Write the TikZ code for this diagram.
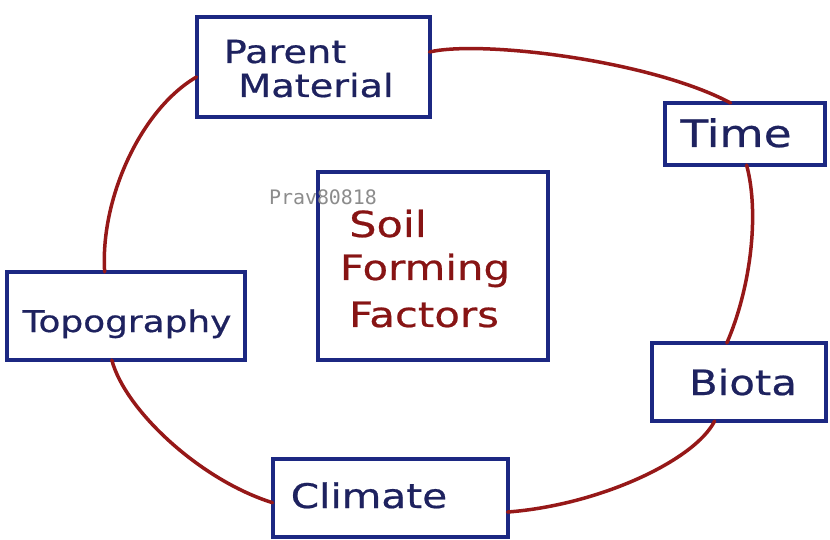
\documentclass[tikz,border=0pt]{standalone}
\usepackage{fontspec}
\usetikzlibrary{calc}
\newfontfamily\hand{DejaVu Sans}[FakeStretch=1.2,FakeBold=0.6]
\newfontfamily\wmark{DejaVu Sans Mono}
\definecolor{boxblue}{RGB}{28,40,130}
\definecolor{inkblue}{RGB}{30,34,95}
\definecolor{inkred}{RGB}{150,24,24}
\definecolor{textred}{RGB}{135,20,20}
\begin{document}
\begin{tikzpicture}[x=1bp,y=-1bp,
  box/.style={draw=boxblue, line width=4bp, rectangle, inner sep=0pt, outer sep=0pt, fill=white},
  lbl/.style={anchor=base, inner sep=0pt, text=inkblue},
  redlbl/.style={anchor=base, inner sep=0pt, text=textred},
  conn/.style={draw=inkred, line width=3.5bp, line cap=round}]
\useasboundingbox (0,0) rectangle (830,540);
\fill[white] (0,0) rectangle (830,540);

% boxes
\node[box, minimum width=233bp, minimum height=100bp] (pm) at (313,67) {};
\node[box, minimum width=160bp, minimum height=62bp] (time) at (745,134) {};
\node[box, minimum width=230bp, minimum height=187bp] (sff) at (433,266) {};
\node[box, minimum width=237bp, minimum height=88bp] (topo) at (126,316) {};
\node[box, minimum width=174bp, minimum height=78bp] (biota) at (739,382) {};
\node[box, minimum width=235bp, minimum height=78bp] (clim) at (390,498) {};

% labels
\node[lbl, font=\hand\fontsize{32}{32}\selectfont] (pmt1) at (285,63) {Parent};
\node[lbl, font=\hand\fontsize{32}{32}\selectfont] (pmt2) at (316,97) {Material};
\node[lbl, font=\hand\fontsize{38}{38}\selectfont] (timet) at (736,147) {Time};
\node[lbl, font=\hand\fontsize{35}{35}\selectfont] (biotat) at (743,395) {Biota};
\node[lbl, font=\hand\fontsize{30}{30}\selectfont] (topot) at (127,332) {Topography};
\node[lbl, font=\hand\fontsize{34}{34}\selectfont] (climt) at (369,508) {Climate};
\node[redlbl, font=\hand\fontsize{36}{36}\selectfont] (s1) at (388,237) {Soil};
\node[redlbl, font=\hand\fontsize{35}{35}\selectfont] (s2) at (425,280) {Forming};
\node[redlbl, font=\hand\fontsize{35}{35}\selectfont] (s3) at (424,327) {Factors};

% watermark
\node[inner sep=0pt, text=black!45, font=\wmark\fontsize{20}{20}\selectfont] (wm) at (323,197) {Prav80818};

% connectors (the ring)
\draw[conn] ($(pm.north east)!0.35!(pm.south east)$) .. controls (480,40) and (650,60) .. ($(time.north west)!0.41!(time.north east)$);
\draw[conn] ($(time.south west)!0.51!(time.south east)$) .. controls (760,215) and (750,290) .. ($(biota.north west)!0.43!(biota.north east)$);
\draw[conn] ($(biota.south west)!0.36!(biota.south east)$) .. controls (695,460) and (600,505) .. ($(clim.north east)!0.68!(clim.south east)$);
\draw[conn] ($(clim.north west)!0.56!(clim.south west)$) .. controls (200,480) and (125,410) .. ($(topo.south west)!0.44!(topo.south east)$);
\draw[conn] ($(topo.north west)!0.41!(topo.north east)$) .. controls (100,200) and (140,110) .. ($(pm.north west)!0.6!(pm.south west)$);
\end{tikzpicture}
\end{document}
